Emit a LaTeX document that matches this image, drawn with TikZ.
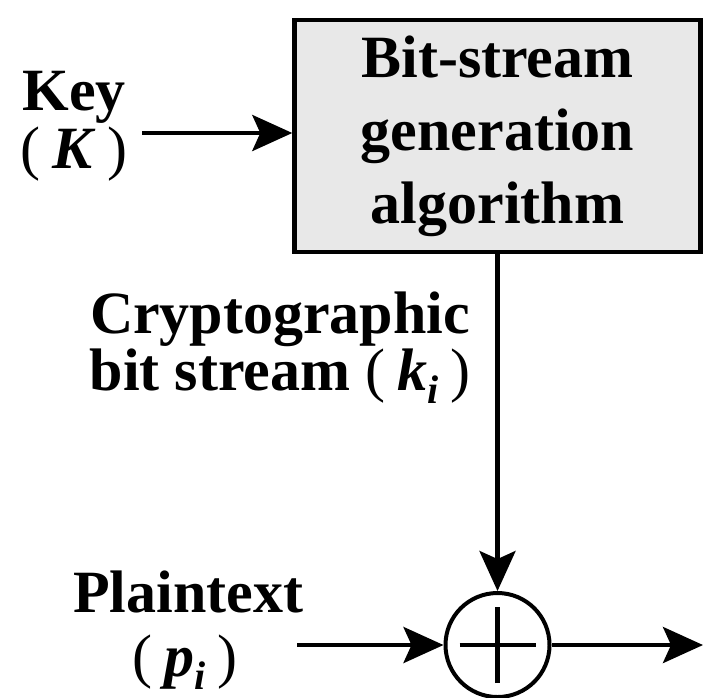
\documentclass[tikz,border=0pt]{standalone}
\usepackage{fontspec}
\setmainfont{Liberation Serif}
\usetikzlibrary{arrows.meta}
\definecolor{boxgray}{RGB}{232,232,232}
\newcommand{\lp}{\textmd{(}\hspace{0.2em}}
\newcommand{\rp}{\hspace{0.2em}\textmd{)}}
\newcommand{\subi}{\raisebox{-0.22em}{\fontsize{20}{20}\selectfont\textit{i}}}
\begin{document}
\begin{tikzpicture}[x=0.5pt,y=-0.5pt,
  lbl/.style={font=\fontsize{30}{30}\selectfont\bfseries, inner sep=0pt},
  arr/.style={line width=2.2pt, -{Stealth[length=20pt,width=18pt,inset=4pt]}},
  genbox/.style={draw, line width=2.2pt, fill=boxgray, align=center,
    minimum width=203pt, minimum height=116pt, inner sep=0pt,
    font=\fontsize{30}{36.5}\selectfont\bfseries},
  xorcirc/.style={draw, circle, line width=2pt, minimum size=52pt, inner sep=0pt,
    path picture={\draw[line width=2.2pt]
      ([xshift=-19pt]path picture bounding box.center) -- ([xshift=19pt]path picture bounding box.center)
      ([yshift=-19pt]path picture bounding box.center) -- ([yshift=19pt]path picture bounding box.center);}}
]
\useasboundingbox (0,0) rectangle (704,697);

% bit-stream generator
\node[genbox] (gen) at (497.5,136) {Bit-stream\\generation\\algorithm};

% key input
\node[lbl, anchor=base] (key) at (74,110) {Key};
\node[lbl, anchor=base] (keysym) at (74,168) {\lp\textit{K}\rp};
\coordinate (kin) at (142,133);
\draw[arr] (kin) -- (kin -| gen.west);

% XOR combiner
\node[xorcirc] (xor) at (497.5,645) {};
\draw[arr] (gen.south -| xor) -- (xor.north);

% key stream label
\node[lbl, anchor=base] (ks1) at (280,333) {Cryptographic};
\node[lbl, anchor=base] (ks2) at (280,390) {bit stream \lp\textit{k}\subi\rp};

% plaintext input
\node[lbl, anchor=base] (pt1) at (188,612) {Plaintext};
\node[lbl, anchor=base] (pt2) at (185,676) {\lp\textit{p}\subi\rp};
\coordinate (pin) at (297,645);
\draw[arr] (pin) -- (xor.west);

% ciphertext output
\coordinate (cout) at (703,645);
\draw[arr] (xor.east) -- (cout);
\end{tikzpicture}
\end{document}
